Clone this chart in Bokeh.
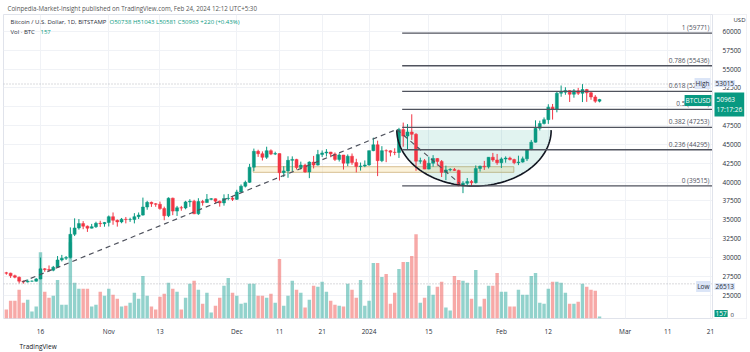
import numpy as np
import pandas as pd
from bokeh.plotting import figure
from bokeh.models import Range1d, FixedTicker, Label, Span, Title
from bokeh.embed import file_html
from bokeh.resources import INLINE
from bokeh.core.properties import value

# ---------------- data ----------------
dates = pd.date_range("2023-10-08", "2024-02-24", freq="D")

opens = [27970, 27930, 27590, 27390, 26870, 26760, 26860, 26860, 27160, 28500, 28400, 28330, 28720, 29680, 29920, 29990, 33080, 33920, 34500, 34160, 33900, 34090, 34540, 34490,
         34650, 35420, 34940, 34730, 35080, 35040, 35040, 35420, 35630, 36700, 37320, 37130, 37060, 36500, 35540, 37880, 36160, 36600, 36580, 37380, 37470, 35800, 37430, 37290, 37720, 37800, 37480, 37250, 37830, 37860,
         37720, 38690, 39460, 39970, 41990, 44090, 43770, 43290, 44170, 43720, 43790, 41250, 41490, 42890, 43020, 41940, 42260, 41360, 42660, 42260, 43660, 43870, 43990, 43740, 43020, 43600, 42520, 43440, 42590, 42070, 42140,
         42280, 44180, 44950, 42850, 44180, 44160, 43970, 43930, 46970, 46110, 46650, 46340, 42780, 42840, 41730, 42500, 43140, 42750, 41290, 41620, 41680, 41560, 39530, 39850, 40080, 39930, 41820, 42120, 42030, 43300, 42940,
         42580, 43080, 43190, 42990, 42580, 42660, 43090, 44330, 45300, 47150, 47770, 48290, 49950, 49700, 51800, 51930, 52160, 51660, 52120, 51780, 52280, 51850, 51300, 50738]
highs = [28100, 27990, 27730, 27480, 26940, 27100, 26960, 27290, 30000, 28600, 28950, 28890, 30200, 30350, 30200, 34000, 35200, 35100, 34830, 34250, 34460, 34750, 34880, 34720,
         35580, 35980, 35050, 35250, 35380, 35280, 35890, 35980, 37950, 37520, 37420, 37230, 37420, 36750, 37980, 37940, 36850, 36850, 37520, 37740, 37660, 37870, 37650, 38420, 37890, 37830, 37560, 38380, 38430, 38170,
         38990, 39690, 40200, 42420, 44450, 44300, 44080, 44700, 44350, 44040, 43800, 42110, 43430, 43420, 43090, 42720, 42440, 42760, 43480, 44280, 44200, 44380, 44010, 43940, 43800, 43610, 43680, 43800, 43100, 42600, 42880,
         44200, 45900, 45500, 44770, 44350, 44230, 44490, 47200, 47900, 47700, 49000, 46500, 43250, 43070, 43380, 43580, 43190, 42930, 42190, 41860, 41880, 41650, 40130, 40550, 40290, 42220, 42190, 42820, 43310, 43880, 43740,
         43280, 43420, 43380, 43110, 43510, 43390, 44380, 45600, 48200, 48150, 48580, 50330, 50370, 52000, 52820, 52580, 52180, 52350, 52500, 53015, 52370, 52000, 51540, 51043]
lows = [27720, 27300, 27250, 26560, 26540, 26690, 26800, 26810, 27120, 28110, 28150, 28180, 28620, 29480, 29680, 29880, 32850, 33700, 33760, 33400, 33860, 33930, 34060, 34090,
        34120, 34350, 34100, 34550, 34530, 34730, 34530, 35110, 35550, 36340, 36720, 36730, 36340, 34950, 35360, 35620, 35520, 36210, 36400, 36720, 35760, 35660, 36880, 37260, 37600, 37160, 36750, 36880, 37600, 37500,
        37630, 38660, 39300, 39900, 41450, 43350, 42870, 43080, 43580, 43590, 40220, 40680, 40580, 41420, 41680, 41680, 41250, 40530, 41820, 42200, 43330, 43400, 43300, 42800, 42730, 41670, 42120, 42300, 41300, 41530, 41990,
        42180, 44100, 40800, 42650, 42650, 43420, 43580, 43210, 44700, 44300, 45600, 41500, 42440, 41720, 41700, 42050, 42190, 40680, 40270, 41440, 41500, 39450, 38540, 39490, 39500, 39820, 41400, 41620, 41810, 42700, 42300,
        41880, 42580, 42880, 42370, 42260, 42580, 42800, 44250, 45250, 46860, 47650, 47730, 48300, 49260, 51330, 51590, 50630, 51200, 51560, 50620, 50650, 50930, 50530, 50581]
closes = [27930, 27590, 27390, 26870, 26760, 26860, 26860, 27160, 28500, 28400, 28330, 28720, 29680, 29920, 29990, 33080, 33920, 34500, 34160, 33900, 34090, 34540, 34490, 34650,
          35420, 34940, 34730, 35080, 35040, 35040, 35420, 35630, 36700, 37320, 37130, 37060, 36500, 35540, 37880, 36160, 36600, 36580, 37380, 37470, 35800, 37430, 37290, 37720, 37800, 37480, 37250, 37830, 37860, 37720,
          38690, 39460, 39970, 41990, 44090, 43770, 43290, 44170, 43720, 43790, 41250, 41490, 42890, 43020, 41940, 42260, 41360, 42660, 42260, 43660, 43870, 43990, 43740, 43020, 43600, 42520, 43440, 42590, 42070, 42140, 42280,
          44180, 44950, 42850, 44180, 44160, 43970, 43930, 46970, 46110, 46650, 46340, 42780, 42840, 41730, 42500, 43140, 42750, 41290, 41620, 41680, 41560, 39530, 39850, 40080, 39930, 41820, 42120, 42030, 43300, 42940, 42580,
          43080, 43190, 42990, 42580, 42660, 43090, 44330, 45300, 47150, 47770, 48290, 49950, 49700, 51800, 51930, 52160, 51660, 52120, 51780, 52280, 51850, 51300, 50740, 50963]
volumes = [675, 1350, 1350, 2175, 1200, 1425, 525, 900, 5025, 2025,
           1575, 1725, 2925, 1050, 1050, 5775, 2700, 2250, 2250, 2250,
           900, 1050, 2025, 1725, 2250, 1800, 1500, 900, 975, 1200,
           1950, 1500, 3225, 1725, 900, 675, 1650, 1875, 2700, 2250,
           2025, 675, 1575, 2625, 2850, 2175, 1125, 1950, 450, 975,
           1575, 2475, 3075, 1950, 1725, 1125, 1200, 2625, 2625, 1725,
           1725, 1575, 1875, 1200, 4500, 975, 1725, 2850, 2175, 1950,
           825, 1425, 2475, 2400, 2775, 2025, 1350, 1050, 975, 900,
           2625, 2175, 1575, 2925, 975, 1350, 4200, 4200, 3150, 3375,
           1125, 1950, 3750, 4275, 4275, 4725, 6375, 1200, 1575, 2475,
           1800, 2400, 2775, 825, 600, 3225, 2925, 2850, 2700, 1500,
           3675, 900, 1500, 2475, 2475, 3450, 2025, 2025, 900, 900,
           2175, 1800, 1800, 3225, 3450, 1200, 1125, 2250, 2775, 2775,
           2700, 1950, 1125, 1125, 1275, 2625, 2400, 2175, 2100, 157]

fib_ratios = ["1", "0.786", "0.618", "0.5", "0.382", "0.236", "0"]
fib_prices = [59771, 55436, 52033, 49643, 47253, 44295, 39515]
fib_start = "2024-01-08 18:00"

trend_up_dates = ["2023-10-11 18:00", "2024-01-07 12:00"]
trend_up_prices = [26780, 47000]
trend_down_dates = ["2024-01-07 12:00", "2024-01-22 06:00"]
trend_down_prices = [47000, 39800]

cup_start, cup_end = "2024-01-07 12:00", "2024-02-12 16:00"
cup_rim, cup_bottom = 46900, 39480

zone_start, zone_end = "2023-12-04 20:00", "2024-02-03 22:00"
zone_low, zone_high = 41300, 42050

session_high, session_low = 53015, 26513
last_price, last_volume = 50963, 157
last_time = "17:17:26"

price_ticks = list(range(25000, 60001, 2500))
time_ticks = ["2023-10-16", "2023-11-01", "2023-11-13", "2023-12-01", "2023-12-11", "2023-12-21",
              "2024-01-01", "2024-01-15", "2024-02-01", "2024-02-12", "2024-03-01", "2024-03-11", "2024-03-21"]
time_labels = ["16", "Nov", "13", "Dec", "11", "21", "2024", "15", "Feb", "12", "Mar", "11", "21"]

# ---------------- figure ----------------
UP, DOWN = "#089981", "#f23645"
FONT = "Open Sans"
ms = lambda s: pd.Timestamp(s).value / 1e6
DAY = 86400000

# frame covers the chart pane and the price-scale strip (price labels drawn inside it)
FL, FT, FW, FH = 3, 14, 743, 307
PANE_R = 712                      # right edge of the chart pane (canvas px)
x_start, x_end = ms("2023-10-07 08:00"), ms("2024-03-29 10:30")
y_start, y_end = 21915, 62235

def cx(px):
    return x_start + (px - FL) / FW * (x_end - x_start)

def cy(py):
    return y_end - (py - FT) / FH * (y_end - y_start)

p = figure(width=750, height=352, x_axis_type="datetime", y_axis_location="right",
           x_range=Range1d(x_start, x_end), y_range=Range1d(y_start, y_end),
           title="Coinpedia-Market-Insight published on TradingView.com, Feb 24, 2024 12:12 UTC+5:30",
           toolbar_location=None, output_backend="svg",
           min_border_left=FL, min_border_right=750 - FL - FW, min_border_top=FT,
           min_border_bottom=352 - FT - FH)
p.title.align = "left"
p.title.offset = 4
p.title.standoff = 3
p.title.text_font = FONT
p.title.text_font_size = "6.2px"
p.title.text_font_style = "normal"
p.title.text_color = "#555555"

footer = Title(text="TradingView", align="left", offset=16, standoff=3,
               text_font=FONT, text_font_size="6.5px", text_font_style="normal", text_color="#131722")
p.add_layout(footer, "below")

p.background_fill_color = "white"
p.border_fill_color = "white"
p.outline_line_color = "#e0e3eb"
p.extra_y_ranges = {"vol": Range1d(0, 23025)}

tick_ms = [ms(t) for t in time_ticks]
p.xaxis.ticker = FixedTicker(ticks=tick_ms)
p.xgrid.ticker = FixedTicker(ticks=tick_ms)
p.xaxis.major_label_overrides = {t: l for t, l in zip(tick_ms, time_labels)}
p.yaxis.ticker = FixedTicker(ticks=price_ticks)
p.ygrid.ticker = FixedTicker(ticks=price_ticks)
p.yaxis.major_label_overrides = {t: str(t) for t in price_ticks}
for ax in (p.xaxis[0], p.yaxis[0]):
    ax.axis_line_color = None
    ax.major_tick_line_color = None
    ax.minor_tick_line_color = None
    ax.major_label_text_font = FONT
    ax.major_label_text_font_size = "6.5px"
    ax.major_label_text_color = "#2a2e39"
p.xaxis.major_label_standoff = 2
p.yaxis.major_label_standoff = 716 - (FL + FW)   # pull price labels into the price-scale strip
p.xgrid.grid_line_color = "#f0f2f6"
p.ygrid.grid_line_color = "#f0f2f6"

# blank price-scale strip (hides grid there) and its separator
p.quad(left=[cx(PANE_R)], right=[x_end + 5 * DAY], bottom=[y_start - 5000], top=[y_end + 5000],
       fill_color="white", line_color=None)
p.add_layout(Span(location=cx(PANE_R), dimension="height", line_color="#e0e3eb", line_width=1))

x = [ms(d) for d in dates]
inc = [c >= o for o, c in zip(opens, closes)]
col = [UP if i else DOWN for i in inc]
vcol = ["#26a69a" if i else "#ef5350" for i in inc]

# volume
p.vbar(x=x, top=volumes, bottom=0, width=0.8 * DAY, y_range_name="vol",
       fill_color=vcol, fill_alpha=0.5, line_color=None)

# zone rectangle
p.quad(left=[ms(zone_start)], right=[ms(zone_end)], bottom=[zone_low], top=[zone_high],
       fill_color="#f6dc9c", fill_alpha=0.35, line_color="#cdb07a", line_alpha=0.8, line_width=1)

# cup shading
c0, c1 = ms(cup_start), ms(cup_end)
ctr, hw = (c0 + c1) / 2, (c1 - c0) / 2
t = np.linspace(0, np.pi, 80)
arc_x = ctr + hw * np.cos(t)
arc_y = cup_rim - (cup_rim - cup_bottom) * np.sin(t)
p.patch(arc_x, arc_y, fill_color="#089981", fill_alpha=0.12, line_color=None)

# candles
p.segment(x0=x, y0=lows, x1=x, y1=highs, line_color=col, line_width=1)
body_top = [max(o, c) for o, c in zip(opens, closes)]
body_bot = [min(o, c) for o, c in zip(opens, closes)]
p.vbar(x=x, top=body_top, bottom=body_bot, width=0.7 * DAY, fill_color=col, line_color=col, line_width=0.5)

# cup line
p.line(arc_x, arc_y, line_color="#131722", line_width=1.6)

# trend lines
p.line([ms(d) for d in trend_up_dates], trend_up_prices, line_color="#50535e", line_width=1.2, line_dash="5 4")
p.line([ms(d) for d in trend_down_dates], trend_down_prices, line_color="#50535e", line_width=1.2, line_dash="5 4")

# fib levels
p.segment(x0=[ms(fib_start)] * len(fib_prices), x1=[cx(PANE_R)] * len(fib_prices),
          y0=fib_prices, y1=fib_prices, line_color="#50535e", line_width=1.3)
p.text(x=[cx(709)] * len(fib_prices), y=fib_prices,
       text=[f"{r} ({v})" for r, v in zip(fib_ratios, fib_prices)],
       text_align="right", text_baseline="bottom", y_offset=-1,
       text_font=value(FONT), text_font_size="6.5px", text_color="#50535e")

# session high / low dotted lines
p.segment(x0=[x_start, x_start], x1=[cx(PANE_R), cx(PANE_R)], y0=[session_high, session_low],
          y1=[session_high, session_low], line_color="#9598a1", line_dash="1 2", line_width=1, line_alpha=0.7)


def lab(px, py, text, color="#2a2e39", size="6.5px", align="left", bg=None, style="normal", pad=0):
    """Label placed at canvas pixel position (px, py)."""
    kw = dict(text=text, text_font=FONT, text_font_size=size, text_color=color,
              text_align=align, text_baseline="middle", text_font_style=style, level="overlay")
    if bg:
        kw.update(background_fill_color=bg, background_fill_alpha=1.0, padding=pad)
    try:
        L = Label(x=px, y=py, x_units="canvas", y_units="canvas", **kw)
    except Exception:
        L = Label(x=px - FL, y=FT + FH - py, x_units="screen", y_units="screen", **kw)
    p.add_layout(L)

# legend
lab(10, 21, "Bitcoin / U.S. Dollar, 1D, BITSTAMP", size="6px")
lab(109, 21, "O50738 H51043 L50581 C50963 +220 (+0.43%)", color=UP, size="6px")
lab(10, 31, "Vol · BTC", size="6px")
lab(40, 31, str(last_volume), color=UP, size="6px")
lab(733, 19, "USD", size="6px")

# price-scale overlays
lab(710, 83, "High", bg="#dbe5f7", align="right", pad=1)
lab(714, 83, str(session_high), bg="#dbe5f7", pad=1)
lab(711, 100, "BTCUSD", color="white", bg=UP, align="right", pad=1)
lab(714, 104, f"{last_price}\n{last_time}", color="white", bg=UP, pad=2)
lab(710, 286, "Low", bg="#dbe5f7", align="right", pad=1)
lab(714, 286, str(session_low), bg="#dbe5f7", pad=1)
lab(714, 313, str(last_volume), color="white", bg=UP, pad=1)
lab(730, 314, "0", size="6px")

open("out.html", "w").write(file_html(p, INLINE))
